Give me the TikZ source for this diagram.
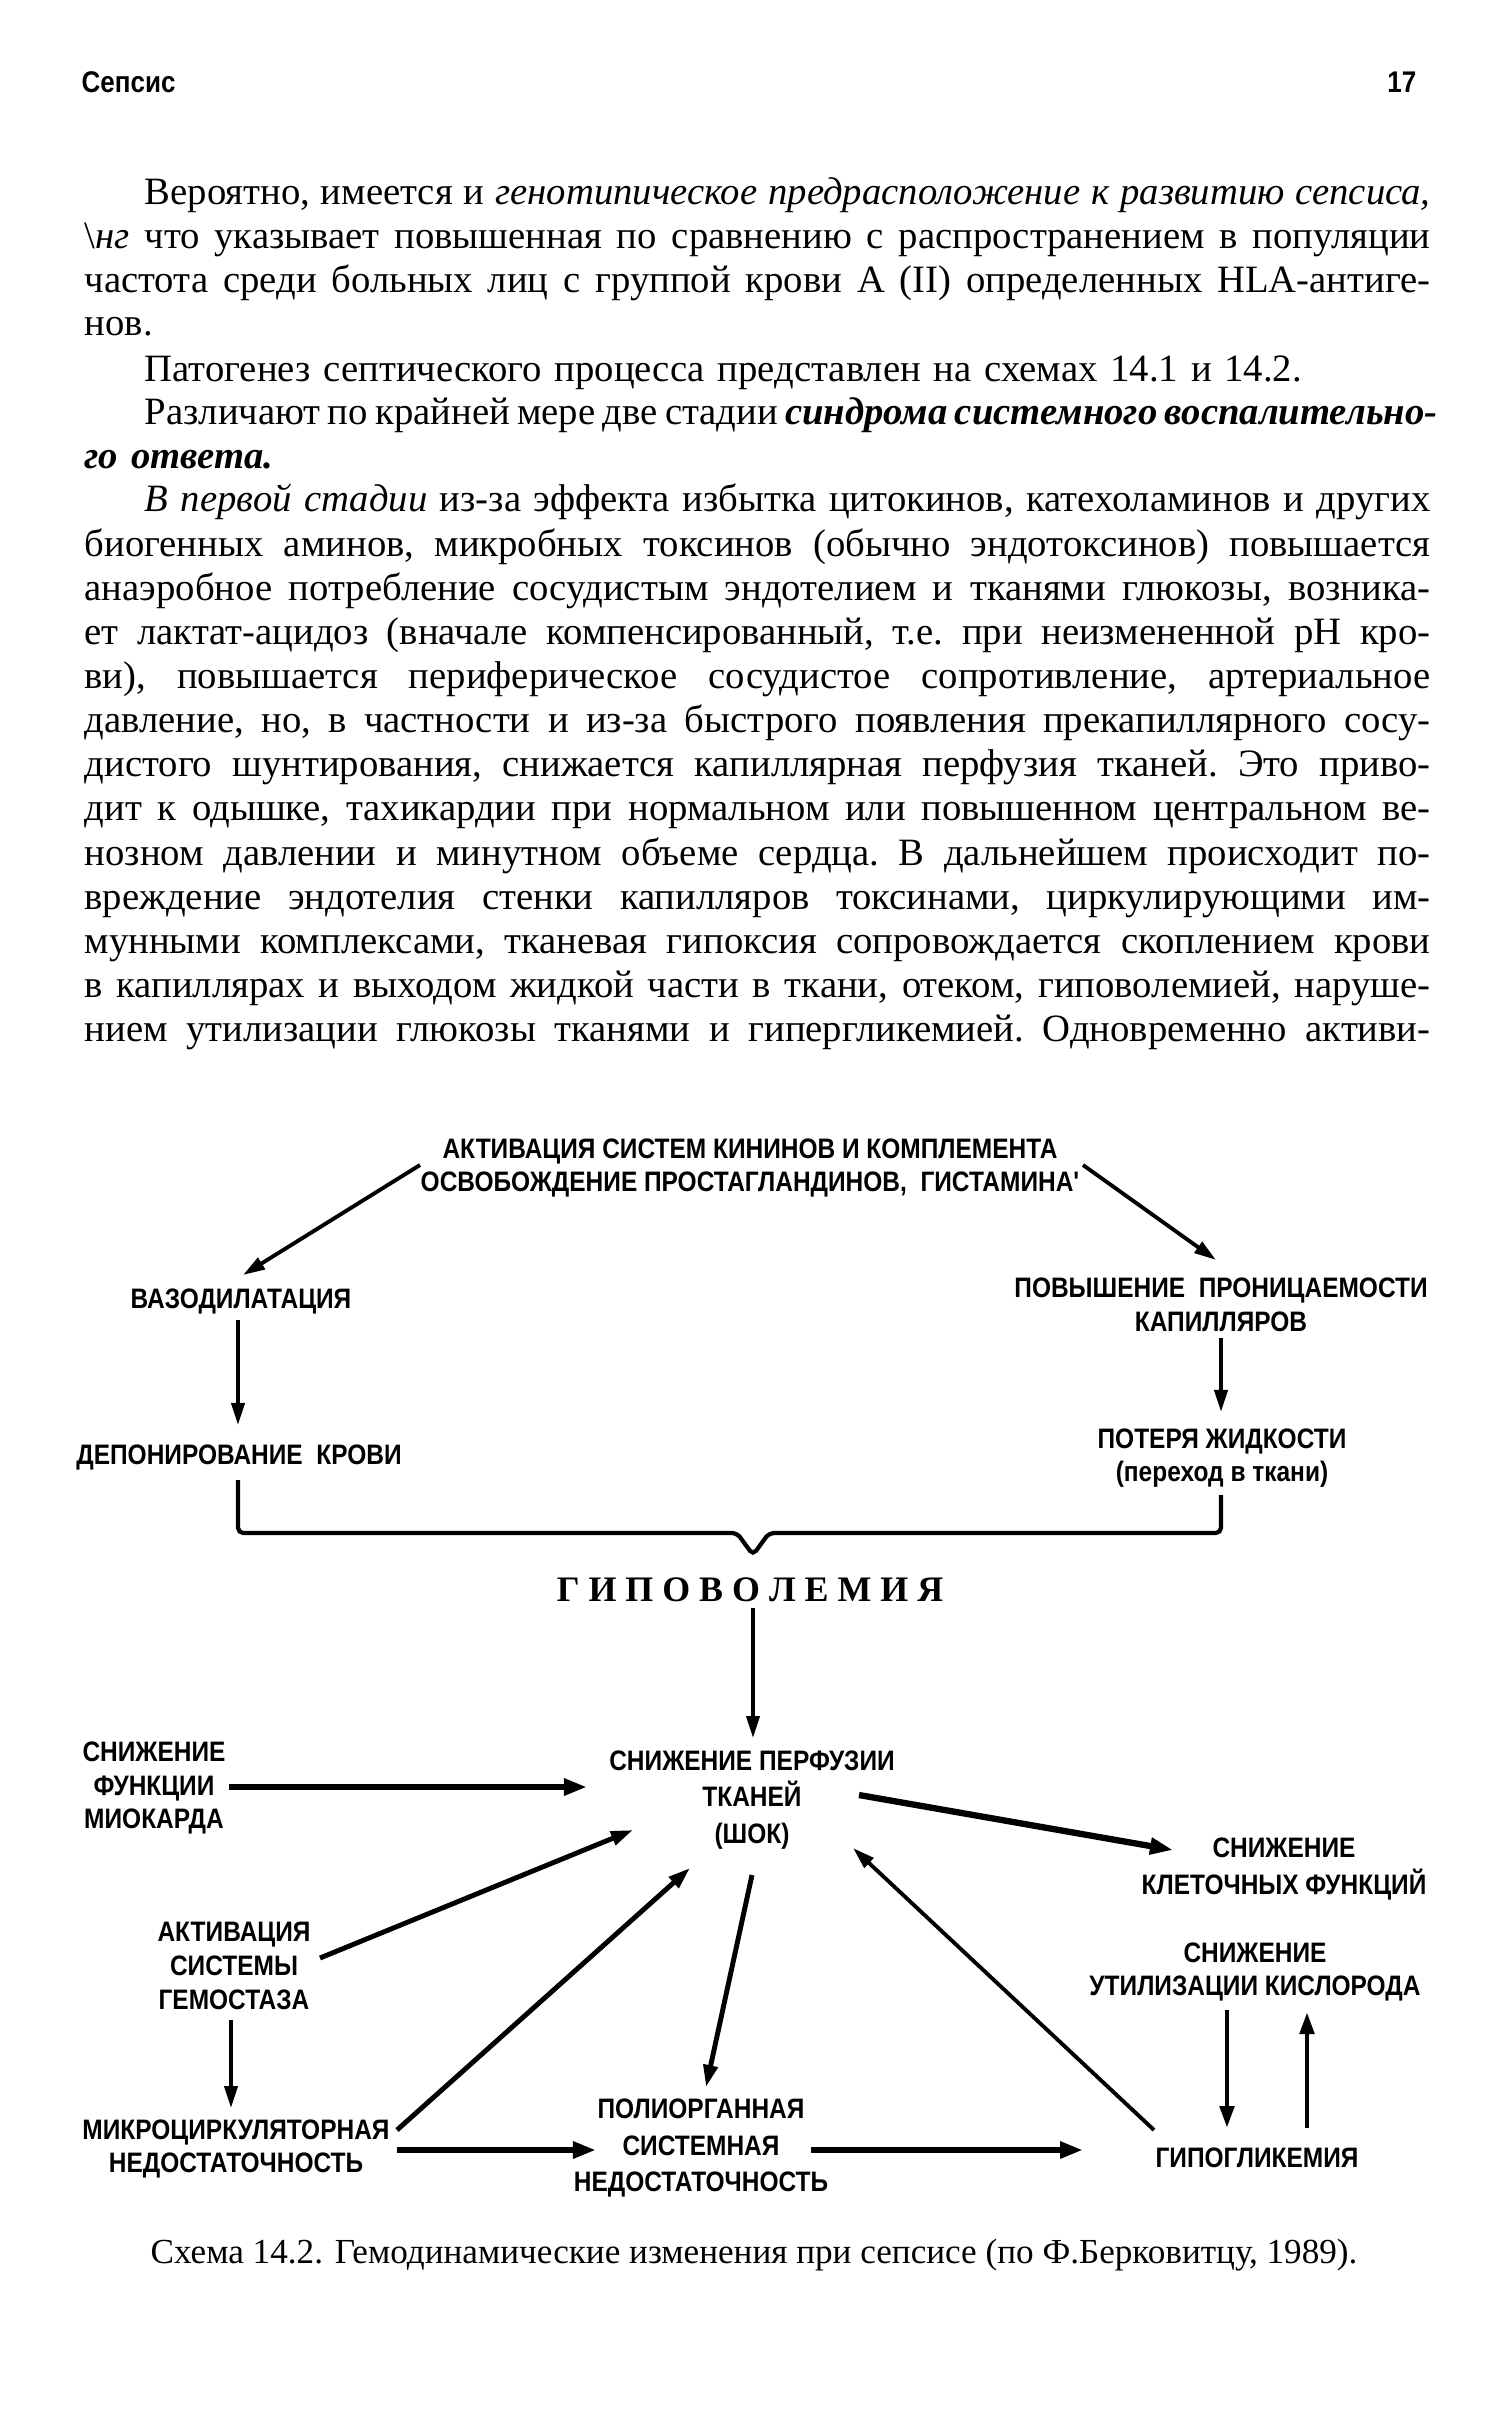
\documentclass[tikz,border=0pt]{standalone}
\usepackage{fontspec}
\setmainfont{Liberation Serif}
\newfontfamily\schemefont[FakeStretch=0.87]{Liberation Sans}
\usetikzlibrary{arrows.meta, calc}
\newlength{\colw}
\setlength{\colw}{13.45cm}
\newcommand{\jl}[1]{\leavevmode\hbox to\colw{\spaceskip=0.25em plus 2em minus 0.06em\relax #1}}
\newcommand{\bodyfont}[1]{\fontsize{11}{#1}\selectfont\frenchspacing}
\tikzset{
  bodytext/.style={anchor=base west, inner sep=0pt, text width=\colw, align=left,
    font=\bodyfont{12.4}},
  head/.style={inner sep=0pt, font=\schemefont\bfseries\fontsize{8.5}{10}\selectfont},
  lbl/.style={align=center, inner sep=1pt,
    font=\schemefont\bfseries\fontsize{8}{9.6}\selectfont},
  wlbl/.style={lbl, font=\schemefont\bfseries\fontsize{8}{10.3}\selectfont},
  arr/.style={-{Triangle[length=2.2mm,width=1.3mm]}, line width=1.1pt},
  marr/.style={-{Triangle[length=2.2mm,width=1.4mm]}, line width=1.4pt},
  tarr/.style={-{Triangle[length=2.3mm,width=1.6mm]}, line width=1.8pt},
  brace/.style={line width=1.2pt, rounded corners=1.5pt}
}

\begin{document}
\begin{tikzpicture}[x=0.01cm, y=-0.01cm]
  \fill[white] (0,0) rectangle (1496,2425);
  \useasboundingbox (0,0) rectangle (1496,2425);
  % Running head
  \node[head, anchor=base west] (chapter) at (81,93) {Сепсис};
  \node[head, anchor=base east] (pagenum) at (1417,93) {17};
  % Text
  \node[bodytext] (para1) at (84,205) {%
    \jl{\hspace*{0.6cm}Вероятно, имеется и \textit{генотипическое предрасположение к развитию сепсиса,}}\\
    \jl{\textbackslash\textit{нг} что указывает повышенная по сравнению с распространением в популяции}\\
    \jl{частота среди больных лиц с группой крови А (II) определенных HLA-антиге-}\\
    нов.};
  \node[bodytext] (para2) at (84,382) {\hspace*{0.6cm}Патогенез септического процесса представлен на схемах 14.1 и 14.2.};
  \node[bodytext] (para3) at (84,425) {%
    \jl{\hspace*{0.6cm}Различают по крайней мере две стадии \textbf{\textit{синдрома системного воспалительно-}}}\\
    \textbf{\textit{го ответа.}}};
  \node[bodytext, font=\bodyfont{12.55}] (para4) at (84,512) {%
    \jl{\hspace*{0.6cm}\textit{В первой стадии} из-за эффекта избытка цитокинов, катехоламинов и других}\\
    \jl{биогенных аминов, микробных токсинов (обычно эндотоксинов) повышается}\\
    \jl{анаэробное потребление сосудистым эндотелием и тканями глюкозы, возника-}\\
    \jl{ет лактат-ацидоз (вначале компенсированный, т.е. при неизмененной pH кро-}\\
    \jl{ви), повышается периферическое сосудистое сопротивление, артериальное}\\
    \jl{давление, но, в частности и из-за быстрого появления прекапиллярного сосу-}\\
    \jl{дистого шунтирования, снижается капиллярная перфузия тканей. Это приво-}\\
    \jl{дит к одышке, тахикардии при нормальном или повышенном центральном ве-}\\
    \jl{нозном давлении и минутном объеме сердца. В дальнейшем происходит по-}\\
    \jl{вреждение эндотелия стенки капилляров токсинами, циркулирующими им-}\\
    \jl{мунными комплексами, тканевая гипоксия сопровождается скоплением крови}\\
    \jl{в капиллярах и выходом жидкой части в ткани, отеком, гиповолемией, наруше-}\\
    \jl{нием утилизации глюкозы тканями и гипергликемией. Одновременно активи-}};
  % Scheme 14.2: upper part
  \node[lbl] (top) at (750,1168) {АКТИВАЦИЯ СИСТЕМ КИНИНОВ И КОМПЛЕМЕНТА\\ОСВОБОЖДЕНИЕ ПРОСТАГЛАНДИНОВ,\ \ ГИСТАМИНА'};
  \node[lbl] (vaso) at (241,1301) {ВАЗОДИЛАТАЦИЯ};
  \node[lbl] (perm) at (1221,1305) {ПОВЫШЕНИЕ\ \ ПРОНИЦАЕМОСТИ\\КАПИЛЛЯРОВ};
  \node[lbl] (depo) at (239,1457) {ДЕПОНИРОВАНИЕ\ \ КРОВИ};
  \node[lbl] (loss) at (1222,1458) {ПОТЕРЯ ЖИДКОСТИ\\(переход в ткани)};
  \node[inner sep=1pt, font=\bfseries\fontsize{10.2}{12}\selectfont] (hypo) at (750,1590) {Г И П О В О Л Е М И Я};
  \draw[arr] ($(top)+(-330,-3)$) -- ($(vaso)+(2,-26)$);
  \draw[arr] ($(top)+(333,-3)$) -- ($(perm)+(-5,-45)$);
  \draw[arr] ($(vaso)+(-3,19)$) -- ($(depo)+(-1,-32)$);
  \draw[arr] ($(perm)+(0,33)$) -- ($(loss)+(-1,-46)$);
  \draw[brace] ($(depo)+(-1,23)$) |- ($(hypo)+(-13,-57)$) -- ($(hypo)+(3,-35)$)
    -- ($(hypo)+(19,-57)$) -| ($(loss)+(-1,37)$);
  % Scheme 14.2: lower part
  \node[wlbl] (perf) at (752,1800) {СНИЖЕНИЕ ПЕРФУЗИИ\\ТКАНЕЙ\\(ШОК)};
  \node[lbl] (myo) at (154,1788) {СНИЖЕНИЕ\\ФУНКЦИИ\\МИОКАРДА};
  \node[wlbl] (cell) at (1284,1869) {СНИЖЕНИЕ\\КЛЕТОЧНЫХ ФУНКЦИЙ};
  \node[lbl] (hemo) at (234,1966) {АКТИВАЦИЯ\\СИСТЕМЫ\\ГЕМОСТАЗА};
  \node[lbl] (oxy) at (1255,1972) {СНИЖЕНИЕ\\УТИЛИЗАЦИИ КИСЛОРОДА};
  \node[lbl] (micro) at (236,2149) {МИКРОЦИРКУЛЯТОРНАЯ\\НЕДОСТАТОЧНОСТЬ};
  \node[wlbl] (poly) at (701,2148) {ПОЛИОРГАННАЯ\\СИСТЕМНАЯ\\НЕДОСТАТОЧНОСТЬ};
  \node[lbl] (glyc) at (1257,2158) {ГИПОГЛИКЕМИЯ};
  \draw[arr] ($(hypo)+(3,18)$) -- ($(perf)+(1,-62)$);
  \draw[tarr] ($(myo)+(75,-1)$) -- ($(perf)+(-165,-13)$);
  \draw[tarr] ($(perf)+(107,-5)$) -- ($(cell)+(-111,-19)$);
  \draw[marr] ($(hemo)+(86,-8)$) -- ($(perf)+(-119,30)$);
  \draw[marr] ($(micro)+(161,-19)$) -- ($(perf)+(-62,68)$);
  \draw[marr] ($(perf)+(0,75)$) -- ($(poly)+(5,-61)$);
  \draw[arr] ($(glyc)+(-103,-28)$) -- ($(perf)+(101,48)$);
  \draw[arr] ($(hemo)+(-3,54)$) -- ($(micro)+(-5,-41)$);
  \draw[tarr] ($(micro)+(161,1)$) -- ($(poly)+(-105,2)$);
  \draw[tarr] ($(poly)+(110,2)$) -- ($(glyc)+(-174,-8)$);
  \draw[marr] ($(oxy)+(-28,38)$) -- ($(glyc)+(-30,-30)$);
  \draw[marr] ($(glyc)+(50,-30)$) -- ($(oxy)+(52,40)$);
  % Caption
  \node[anchor=base, inner sep=0pt, font=\fontsize{10}{12}\selectfont] (caption) at (754,2263)
    {Схема 14.2. Гемодинамические изменения при сепсисе (по Ф.Берковитцу, 1989).};
\end{tikzpicture}
\end{document}
